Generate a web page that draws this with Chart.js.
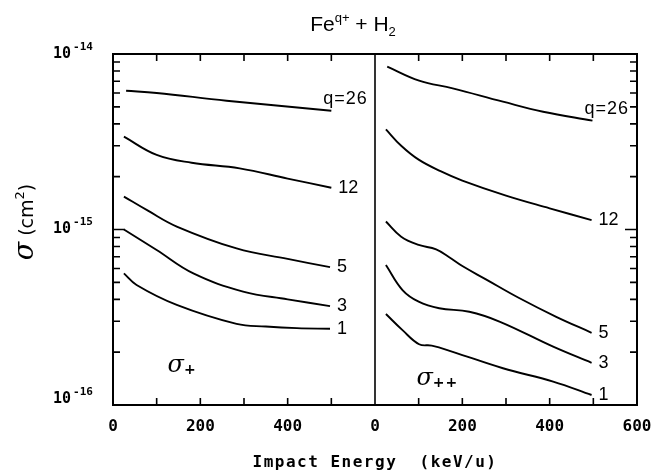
<!DOCTYPE html>
<html><head><meta charset="utf-8">
<script src="https://cdn.jsdelivr.net/npm/chart.js@4/dist/chart.umd.min.js"></script>
<style>html,body{margin:0;padding:0;background:#fff;}canvas{display:block;}</style>
</head><body>
<canvas id="c" width="657" height="473"></canvas>
<script>
// ---- data (energies in keV/u, cross sections in cm^2) ----
const chargeStates = [26, 12, 5, 3, 1];
const xTickLabels = ["0", "200", "400", "0", "200", "400", "600"];
const yTickLabels = ["10^-16", "10^-15", "10^-14"];

// sigma_+  (left panel)
const plusE_q26 = [30, 100, 260, 500];
const plus_q26  = [6.18e-15, 6.0e-15, 5.42e-15, 4.75e-15];
const plusE_q12 = [25, 100, 180, 290, 400, 500];
const plus_q12  = [3.38e-15, 2.66e-15, 2.40e-15, 2.23e-15, 1.95e-15, 1.73e-15];
const plusE_q5  = [25, 80, 146, 283, 400, 497];
const plus_q5   = [1.54e-15, 1.28e-15, 1.04e-15, 7.8e-16, 6.8e-16, 6.1e-16];
const plusE_q3  = [25, 100, 184, 298, 400, 497];
const plus_q3   = [1.0e-15, 7.64e-16, 5.62e-16, 4.43e-16, 4.0e-16, 3.66e-16];
const plusE_q1  = [25, 54, 146, 283, 350, 421, 497];
const plus_q1   = [5.62e-16, 4.83e-16, 3.72e-16, 2.9e-16, 2.8e-16, 2.74e-16, 2.72e-16];

// sigma_++ (right panel)
const ppE_q26 = [28, 101, 178, 293, 385, 498];
const pp_q26  = [8.47e-15, 7.05e-15, 6.37e-15, 5.35e-15, 4.69e-15, 4.17e-15];
const ppE_q12 = [25, 60, 100, 150, 200, 300, 400, 496];
const pp_q12  = [3.72e-15, 3.0e-15, 2.5e-15, 2.15e-15, 1.9e-15, 1.56e-15, 1.32e-15, 1.13e-15];
const ppE_q5  = [25, 60, 100, 140, 170, 200, 254, 330, 415, 496];
const pp_q5   = [1.11e-15, 9.1e-16, 8.17e-16, 7.71e-16, 6.95e-16, 6.19e-16, 5.2e-16, 4.07e-16, 3.18e-16, 2.58e-16];
const ppE_q3  = [25, 63, 100, 147, 216, 285, 408, 496];
const pp_q3   = [6.28e-16, 4.52e-16, 3.88e-16, 3.56e-16, 3.40e-16, 2.99e-16, 2.15e-16, 1.74e-16];
const ppE_q1  = [25, 63, 101, 130, 178, 293, 408, 496];
const pp_q1   = [3.30e-16, 2.67e-16, 2.22e-16, 2.18e-16, 2.01e-16, 1.62e-16, 1.36e-16, 1.14e-16];

const panelWidth = 600; // each panel spans 0..600 keV/u on a shared axis

function pts(E, S, off) { return E.map((e, i) => ({ x: e + off, y: S[i] })); }
const curves = [
  { E: plusE_q26, S: plus_q26, off: 0, label: "q=26", above: true },
  { E: plusE_q12, S: plus_q12, off: 0, label: "12" },
  { E: plusE_q5,  S: plus_q5,  off: 0, label: "5" },
  { E: plusE_q3,  S: plus_q3,  off: 0, label: "3" },
  { E: plusE_q1,  S: plus_q1,  off: 0, label: "1" },
  { E: ppE_q26, S: pp_q26, off: panelWidth, label: "q=26", above: true },
  { E: ppE_q12, S: pp_q12, off: panelWidth, label: "12" },
  { E: ppE_q5,  S: pp_q5,  off: panelWidth, label: "5" },
  { E: ppE_q3,  S: pp_q3,  off: panelWidth, label: "3" },
  { E: ppE_q1,  S: pp_q1,  off: panelWidth, label: "1" },
];

const decorations = {
  id: 'decor',
  afterDraw(chart) {
    const ctx = chart.ctx, a = chart.chartArea;
    const xs = chart.scales.x, ys = chart.scales.y;
    ctx.save();
    ctx.strokeStyle = '#000'; ctx.fillStyle = '#000';
    // frame
    ctx.lineWidth = 2;
    ctx.strokeRect(a.left, a.top, a.right - a.left, a.bottom - a.top);
    // divider between panels
    const xd = Math.round(xs.getPixelForValue(panelWidth));
    ctx.lineWidth = 1.6;
    ctx.beginPath(); ctx.moveTo(xd, a.top); ctx.lineTo(xd, a.bottom); ctx.stroke();
    // x ticks (inward, top and bottom)
    ctx.lineWidth = 1.6;
    for (let v = 100; v < 2 * panelWidth; v += 100) {
      if (v === panelWidth) continue;
      const px = xs.getPixelForValue(v);
      ctx.beginPath();
      ctx.moveTo(px, a.bottom); ctx.lineTo(px, a.bottom - 7);
      ctx.moveTo(px, a.top); ctx.lineTo(px, a.top + 7);
      ctx.stroke();
    }
    // y ticks (inward, left and right)
    for (let d = -16; d <= -14; d++) {
      for (let m = 1; m <= 9; m++) {
        const v = m * Math.pow(10, d);
        if (v > 1.0001e-14) break;
        const py = ys.getPixelForValue(v);
        const len = m === 1 ? 12 : 7;
        ctx.beginPath();
        ctx.moveTo(a.left, py); ctx.lineTo(a.left + len, py);
        ctx.moveTo(a.right, py); ctx.lineTo(a.right - len, py);
        ctx.stroke();
      }
    }
    // y tick labels  10^-n
    ctx.textBaseline = 'middle'; ctx.textAlign = 'left';
    yTickLabels.forEach(lbl => {
      const [base, ex] = lbl.split('^');
      const v = Math.pow(10, parseInt(ex));
      let py = ys.getPixelForValue(v);
      py = Math.min(py, a.bottom - 6);
      ctx.font = 'bold 15px "DejaVu Sans Mono"';
      ctx.fillText(base, 53, py);
      const w = ctx.measureText(base).width;
      ctx.font = 'bold 11px "DejaVu Sans Mono"';
      ctx.fillText(ex, 53 + w + 2, py - 7);
    });
    // curve end labels
    ctx.font = '18px "Liberation Sans"';
    ctx.textBaseline = 'middle';
    chart.data.datasets.forEach((ds, i) => {
      const c = curves[i];
      const last = ds.data[ds.data.length - 1];
      const px = xs.getPixelForValue(last.x), py = ys.getPixelForValue(last.y);
      ctx.textAlign = 'left';
      if (c.above) { try { ctx.letterSpacing = '1px'; } catch (e) {} ctx.fillText(c.label, px - 8, py - 12); try { ctx.letterSpacing = '0px'; } catch (e) {} }
      else { ctx.fillText(c.label, px + 7, py); }
    });
    // sigma labels
    function sigma(txt, sub, x, y) {
      ctx.textAlign = 'left'; ctx.textBaseline = 'alphabetic';
      ctx.font = 'italic 24px "DejaVu Serif"';
      ctx.fillText(txt, x, y);
      const w = ctx.measureText(txt).width;
      ctx.font = 'bold 14px "DejaVu Sans"';
      try { ctx.letterSpacing = '1px'; } catch (e) {}
      ctx.fillText(sub, x + w, y + 2);
      try { ctx.letterSpacing = '0px'; } catch (e) {}
    }
    sigma('σ', '+', xs.getPixelForValue(125), ys.getPixelForValue(1.55e-16));
    sigma('σ', '++', xs.getPixelForValue(panelWidth + 95), ys.getPixelForValue(1.30e-16));
    // title Fe^{q+} + H_2
    ctx.textBaseline = 'alphabetic'; ctx.textAlign = 'left';
    const big = '21px "Liberation Sans"', small = '13px "Liberation Sans"';
    const parts = [['Fe', big, 0], ['q+', small, -9], [' + H', big, 0], ['2', small, 5]];
    let tw = 0;
    parts.forEach(p => { ctx.font = p[1]; tw += ctx.measureText(p[0]).width; });
    let tx = 353 - tw / 2;
    parts.forEach(p => { ctx.font = p[1]; ctx.fillText(p[0], tx, 31 + p[2]); tx += ctx.measureText(p[0]).width; });
    // y title  sigma (cm^2)
    ctx.save();
    ctx.translate(33, 222); ctx.rotate(-Math.PI / 2);
    const yparts = [['σ', 'italic 27px "DejaVu Serif"', 0], [' (cm', '19px "DejaVu Sans"', 0], ['2', '13px "DejaVu Sans"', -9], [')', '19px "DejaVu Sans"', 0]];
    let yw = 0;
    yparts.forEach(p => { ctx.font = p[1]; yw += ctx.measureText(p[0]).width; });
    let yx = -yw / 2;
    yparts.forEach(p => { ctx.font = p[1]; ctx.fillText(p[0], yx, p[2]); yx += ctx.measureText(p[0]).width; });
    ctx.restore();
    // x title
    ctx.font = 'bold 16px "DejaVu Sans Mono"';
    ctx.textAlign = 'center'; ctx.textBaseline = 'middle';
    try { ctx.letterSpacing = '1.5px'; } catch (e) {}
    ctx.fillText('Impact Energy  (keV/u)', (a.left + a.right) / 2, 463);
    ctx.restore();
  }
};

new Chart(document.getElementById('c'), {
  type: 'line',
  data: {
    datasets: curves.map(c => ({
      data: pts(c.E, c.S, c.off),
      borderColor: '#000', borderWidth: 1.9, pointRadius: 0, fill: false,
      tension: 0.4
    }))
  },
  options: {
    responsive: false, animation: false, devicePixelRatio: 1,
    layout: { padding: { top: 54, right: 20, left: 0, bottom: 0 } },
    plugins: { legend: { display: false }, tooltip: { enabled: false }, title: { display: false } },
    scales: {
      x: {
        type: 'linear', min: 0, max: 2 * panelWidth,
        afterFit(s) { s.height = 68; s.paddingLeft = 0; s.paddingRight = 0; },
        grid: { display: false, drawTicks: false }, border: { display: false },
        ticks: {
          stepSize: 200, autoSkip: false, maxRotation: 0, padding: 12, color: '#000',
          font: { family: 'DejaVu Sans Mono', size: 16, weight: 'bold' },
          callback: (v, i) => xTickLabels[i]
        }
      },
      y: {
        type: 'logarithmic', min: 1e-16, max: 1e-14,
        afterFit(s) { s.width = 113; },
        ticks: { display: false }, grid: { display: false }, border: { display: false }
      }
    }
  },
  plugins: [decorations]
});
</script>
</body></html>
